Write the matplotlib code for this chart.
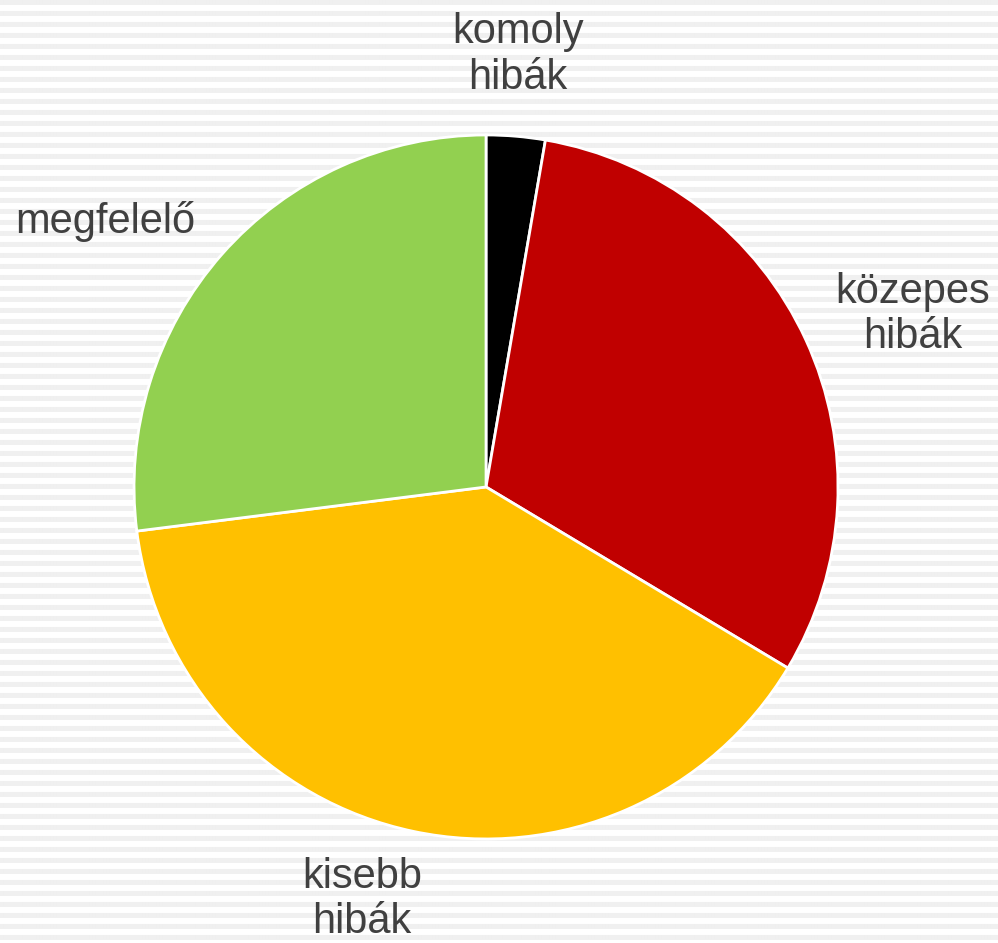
import numpy as np
import matplotlib.pyplot as plt

labels = ["komoly\nhibák", "közepes\nhibák", "kisebb\nhibák", "megfelelő"]
values = [2.7, 30.9, 39.4, 27.0]
colors = ["#000000", "#C00000", "#FFC000", "#92D050"]
# label anchor points, in pie radius units
label_pos = [(0.09, 1.227), (1.213, 0.489), (-0.352, -1.173), (-1.082, 0.753)]

plt.rcParams['font.family'] = ['Liberation Sans', 'DejaVu Sans']

fig = plt.figure(figsize=(9.98, 9.43), dpi=100)

# striped background
bg = fig.add_axes([0, 0, 1, 1])
rows = np.arange(943)
stripe = np.where((rows % 11) < 5, 0.94, 1.0)
img = np.repeat(stripe[:, None], 10, axis=1)
bg.imshow(img, cmap="gray", vmin=0, vmax=1, aspect="auto", interpolation="bilinear")
bg.axis("off")

ax = fig.add_axes([0.1343, 0.1103, 0.7054, 0.7466])
ax.pie(values, colors=colors, startangle=90, counterclock=False,
       wedgeprops=dict(edgecolor="white", linewidth=2))
ax.set_xlim(-1, 1)
ax.set_ylim(-1, 1)
ax.set_aspect("equal")
ax.axis("off")

for lab, (x, y) in zip(labels, label_pos):
    ax.text(x, y, lab, ha="center", va="center", fontsize=30, color="#404040",
            linespacing=1.17, clip_on=False)

fig.savefig("out.png", dpi=100)
